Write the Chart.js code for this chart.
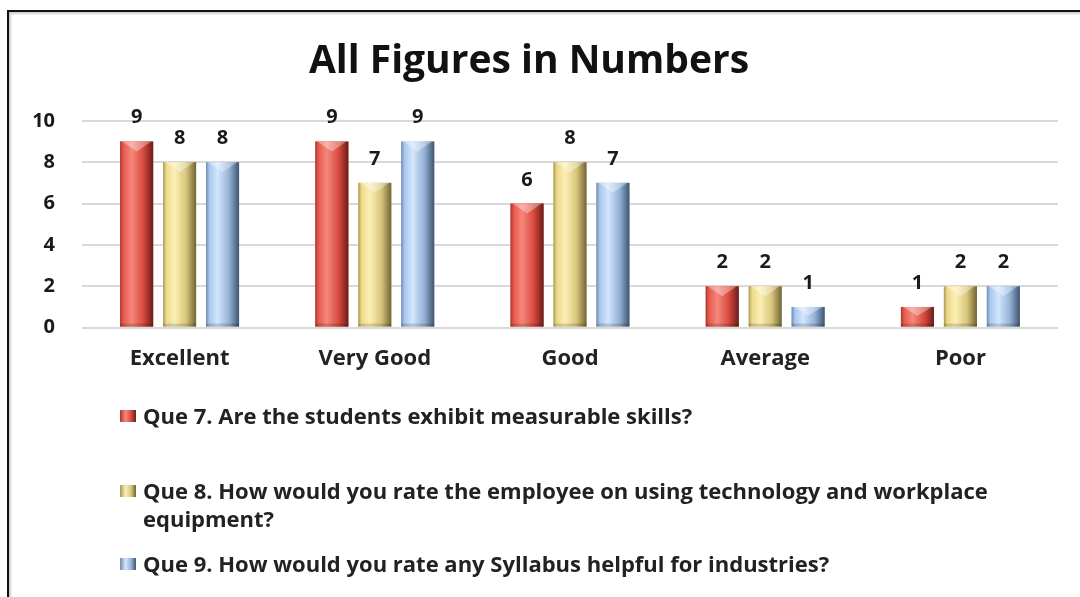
<!DOCTYPE html>
<html lang="en">
<head>
  <meta charset="UTF-8" />
  <title>All Figures in Numbers</title>
  <script src="https://cdn.jsdelivr.net/npm/chart.js"></script>
  <style>
    body {
      margin: 0;
      background: #fff;
      font-family: "Open Sans", sans-serif;
    }

    .wrap {
      position: relative;
      width: 1080px;
      height: 597px;
      overflow: hidden;
    }

    .frame {
      position: absolute;
      left: 7px;
      top: 10px;
      right: -10px;
      bottom: -10px;
      border-left: 2px solid #111;
      border-top: 2px solid #111;
      box-shadow: inset 2px 2px 2px #cfcfcf;
    }

    canvas {
      position: absolute;
      left: 0;
      top: 0;
    }

    .legend {
      position: absolute;
      left: 120px;
      top: 0;
      width: 895px;
      font: bold 22px "Open Sans", sans-serif;
      color: #222;
    }

    .legend .item {
      position: absolute;
      left: 0;
      padding-left: 23px;
      line-height: 28px;
    }

    .legend .item i {
      position: absolute;
      left: 0;
      top: 9px;
      width: 16px;
      height: 12px;
    }
  </style>
</head>
<body>

  <div class="wrap">
    <div class="frame"></div>
    <canvas id="chart" width="1080" height="597"></canvas>
    <div class="legend" id="legend"></div>
  </div>

  <script>
    const categories = ["Excellent", "Very Good", "Good", "Average", "Poor"];
    const seriesNames = [
      "Que 7. Are the students exhibit measurable skills?",
      "Que 8. How would you rate the employee on using technology and workplace equipment?",
      "Que 9. How would you rate any Syllabus helpful for industries?"
    ];
    const que7 = [9, 9, 6, 2, 1];
    const que8 = [8, 7, 8, 2, 2];
    const que9 = [8, 9, 7, 1, 2];

    // edge, base, highlight, base, dark edge
    const shades = [
      ["#a8392f", "#e85a4f", "#f6877b", "#d84a40", "#6a1e19"],
      ["#a89a55", "#ecd98a", "#fbf0b4", "#d8c57a", "#6f6435"],
      ["#6f8bb0", "#a9c6ec", "#d3e6fc", "#94b1d6", "#3f5570"]
    ];

    // bevelled bar look, drawn over the library's bar elements
    const bevel = {
      id: "bevel",
      afterDatasetsDraw(chart) {
        const ctx = chart.ctx;
        chart.data.datasets.forEach((ds, i) => {
          const meta = chart.getDatasetMeta(i);
          const s = shades[i];
          meta.data.forEach((bar) => {
            const { x, y, base, width } = bar.getProps(["x", "y", "base", "width"], true);
            const l = x - width / 2, r = x + width / 2, h = base - y;
            const g = ctx.createLinearGradient(l, 0, r, 0);
            g.addColorStop(0, s[0]);
            g.addColorStop(0.1, s[1]);
            g.addColorStop(0.35, s[2]);
            g.addColorStop(0.7, s[3]);
            g.addColorStop(1, s[4]);
            ctx.save();
            ctx.fillStyle = g;
            ctx.fillRect(l, y, width, h);
            // top chevron
            const ch = Math.min(10, h * 0.45);
            ctx.fillStyle = "rgba(255,255,255,0.35)";
            ctx.beginPath();
            ctx.moveTo(l + 2, y);
            ctx.lineTo(r - 2, y);
            ctx.lineTo(x, y + ch);
            ctx.closePath();
            ctx.fill();
            // bottom shade
            ctx.fillStyle = "rgba(0,0,0,0.15)";
            ctx.fillRect(l, base - 3, width, 3);
            ctx.restore();
          });
        });
      }
    };

    const valueLabels = {
      id: "valueLabels",
      afterDatasetsDraw(chart) {
        const ctx = chart.ctx;
        ctx.save();
        ctx.font = "bold 20px 'Open Sans', sans-serif";
        ctx.fillStyle = "#1a1a1a";
        ctx.textAlign = "center";
        ctx.textBaseline = "alphabetic";
        chart.data.datasets.forEach((ds, i) => {
          chart.getDatasetMeta(i).data.forEach((bar, j) => {
            ctx.fillText(ds.data[j], bar.x, bar.y - 18);
          });
        });
        ctx.restore();
      }
    };

    const datasets = [que7, que8, que9].map((vals, i) => ({
      label: seriesNames[i],
      data: vals,
      backgroundColor: shades[i][1],
      categoryPercentage: 0.66,
      barPercentage: 0.77
    }));

    new Chart(document.getElementById("chart"), {
      type: "bar",
      data: { labels: categories, datasets },
      options: {
        responsive: false,
        animation: false,
        layout: { padding: { left: 0, right: 22, top: 0, bottom: 215 } },
        plugins: {
          legend: { display: false },
          tooltip: { enabled: false },
          title: {
            display: true,
            text: "All Figures in Numbers",
            color: "#111",
            font: { family: "Open Sans", size: 39, weight: "bold" },
            padding: { top: 38, bottom: 36 }
          }
        },
        scales: {
          x: {
            grid: { display: false },
            border: { display: false },
            ticks: {
              color: "#222",
              padding: 10,
              font: { family: "Open Sans", size: 22, weight: "bold" }
            }
          },
          y: {
            min: 0,
            max: 10,
            afterFit(scale) { scale.width = 82; },
            border: { display: false },
            grid: { color: "#d9d9d9", lineWidth: 2, drawTicks: false },
            ticks: {
              stepSize: 2,
              padding: 27,
              color: "#1a1a1a",
              font: { family: "Open Sans", size: 20, weight: "bold" }
            }
          }
        }
      },
      plugins: [bevel, valueLabels]
    });

    // html legend, Excel-like spacing
    const legendTops = [401, 476, 549];
    const legend = document.getElementById("legend");
    seriesNames.forEach((name, i) => {
      const s = shades[i];
      const div = document.createElement("div");
      div.className = "item";
      div.style.top = legendTops[i] + "px";
      div.innerHTML = `<i style="background: linear-gradient(90deg, ${s[0]}, ${s[2]} 35%, ${s[3]} 70%, ${s[4]})"></i>${name}`;
      legend.appendChild(div);
    });
  </script>

</body>
</html>
